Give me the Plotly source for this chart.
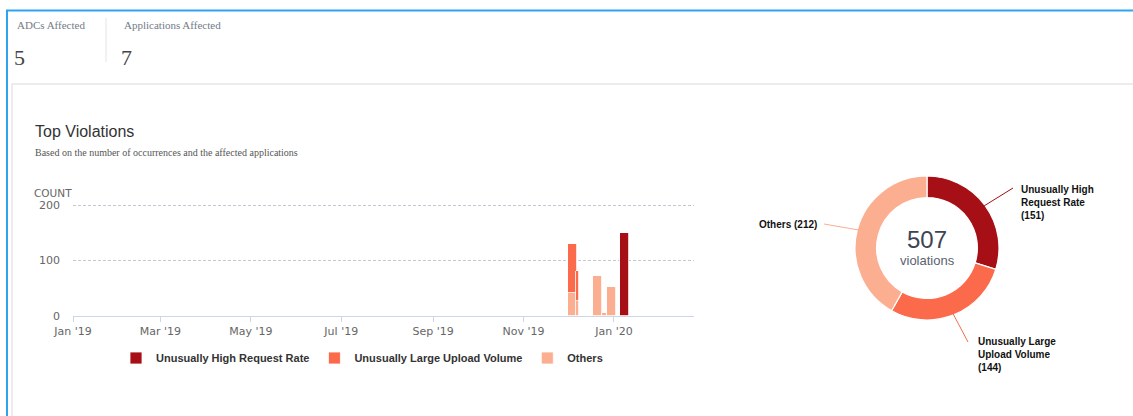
import math
import plotly.graph_objects as go

W, H = 1133, 416

# ---- data -------------------------------------------------------------
adcs_affected = 5
apps_affected = 7

violation_types = ["Unusually High Request Rate", "Unusually Large Upload Volume", "Others"]
violation_totals = [151, 144, 212]
type_colors = ["#a50f15", "#fb6a4a", "#fcae91"]

bar_dates = ["2019-12-04", "2019-12-07 10:00", "2019-12-21", "2019-12-25 14:00",
             "2019-12-30 05:00", "2020-01-08"]
bar_width_days = [6, 2.2, 6, 3, 6, 6]
high_rate = [0, 0, 0, 0, 0, 149]
large_upload = [88, 54, 0, 0, 0, 0]
others = [42, 27, 73, 5, 52, 0]

DAY_MS = 86400000


def px(x):
    return x / W


def py(y):
    return 1 - y / H


fig = go.Figure()

# ---- stacked columns ---------------------------------------------------
widths = [d * DAY_MS for d in bar_width_days]
for name, vals, color in [("Others", others, type_colors[2]),
                          ("Unusually Large Upload Volume", large_upload, type_colors[1]),
                          ("Unusually High Request Rate", high_rate, type_colors[0])]:
    fig.add_trace(go.Bar(
        x=bar_dates, y=vals, width=widths, name=name,
        marker=dict(color=color, line=dict(color="white", width=0.8)),
        hoverinfo="skip",
    ))

# ---- donut -------------------------------------------------------------
cx, cy, R = 927, 248, 72
fig.add_trace(go.Pie(
    labels=violation_types, values=violation_totals,
    marker=dict(colors=type_colors, line=dict(color="white", width=1.2)),
    hole=0.7, sort=False, direction="clockwise", rotation=0,
    textinfo="none", hoverinfo="skip", showlegend=False,
    domain=dict(x=[px(cx - R), px(cx + R)], y=[py(cy + R), py(cy - R)]),
))

# ---- layout ------------------------------------------------------------
tick_font = dict(family="DejaVu Sans", size=11, color="#666666")
fig.update_layout(
    width=W, height=H, autosize=False,
    margin=dict(l=0, r=0, t=0, b=0, pad=0, autoexpand=False),
    paper_bgcolor="white", plot_bgcolor="white",
    barmode="stack", bargap=0,
    xaxis=dict(
        type="date", domain=[px(73), px(694)],
        range=["2019-01-01", "2020-02-24"],
        tick0="2019-01-01", dtick="M2", tickformat="%b '%y",
        showgrid=False, zeroline=False,
        showline=True, linecolor="#ccd6eb", linewidth=1,
        ticks="outside", ticklen=5, tickcolor="#ccd6eb",
        tickfont=tick_font, fixedrange=True, automargin=False,
    ),
    yaxis=dict(
        domain=[py(316), py(204)], range=[0, 202],
        tickvals=[0, 100, 200], showgrid=True,
        gridcolor="#c3c8d3", griddash="3px,2px", gridwidth=1,
        zeroline=False, showline=False,
        tickfont=tick_font, ticklabelstandoff=12, fixedrange=True, automargin=False,
    ),
    legend=dict(
        orientation="h", x=px(362), xanchor="center", y=py(358), yanchor="middle",
        font=dict(family="Liberation Sans", size=11, color="#333333", weight=700),
        traceorder="reversed", itemwidth=30, bgcolor="rgba(0,0,0,0)",
    ),
    showlegend=True,
)

shapes = []
annotations = []

# page frame
shapes.append(dict(type="rect", xref="paper", yref="paper",
                   x0=px(7), x1=1.05, y0=-0.05, y1=py(10.5),
                   line=dict(color="#2ea3f2", width=2), fillcolor="rgba(0,0,0,0)", layer="below"))
shapes.append(dict(type="rect", xref="paper", yref="paper",
                   x0=px(12), x1=1.05, y0=-0.05, y1=py(84),
                   line=dict(color="#ececec", width=2), fillcolor="rgba(0,0,0,0)", layer="below"))
shapes.append(dict(type="line", xref="paper", yref="paper",
                   x0=px(106), x1=px(106), y0=py(18), y1=py(62),
                   line=dict(color="#e4e4e4", width=1)))

# header counters
serif = "Liberation Serif"
for x, label, value in [(15, "ADCs Affected", adcs_affected),
                        (122, "Applications Affected", apps_affected)]:
    annotations.append(dict(x=px(x), y=py(25), xref="paper", yref="paper",
                            text=label, showarrow=False, xanchor="left", yanchor="middle",
                            font=dict(family=serif, size=11, color="#737b87")))
    annotations.append(dict(x=px(x - 3), y=py(58), xref="paper", yref="paper",
                            text=str(value), showarrow=False, xanchor="left", yanchor="middle",
                            font=dict(family=serif, size=22, color="#444444")))

# card title
annotations.append(dict(x=px(33), y=py(131), xref="paper", yref="paper",
                        text="Top Violations", showarrow=False, xanchor="left", yanchor="middle",
                        font=dict(family="Liberation Sans", size=16, color="#333333")))
annotations.append(dict(x=px(33), y=py(152), xref="paper", yref="paper",
                        text="Based on the number of occurrences and the affected applications",
                        showarrow=False, xanchor="left", yanchor="middle",
                        font=dict(family=serif, size=10, color="#555555")))
annotations.append(dict(x=px(32), y=py(193), xref="paper", yref="paper",
                        text="COUNT", showarrow=False, xanchor="left", yanchor="middle",
                        font=dict(family="DejaVu Sans", size=10.5, color="#666666")))

# donut centre
total = sum(violation_totals)
annotations.append(dict(x=px(cx), y=py(240), xref="paper", yref="paper",
                        text=str(total), showarrow=False, xanchor="center", yanchor="middle",
                        font=dict(family="Liberation Sans", size=24, color="#3d4452")))
annotations.append(dict(x=px(cx), y=py(260), xref="paper", yref="paper",
                        text="violations", showarrow=False, xanchor="center", yanchor="middle",
                        font=dict(family="Liberation Sans", size=13, color="#5a6270")))

# donut labels with leader lines from each slice's mid angle
label_text = ["Unusually High<br>Request Rate<br>(%d)",
              "Unusually Large<br>Upload Volume<br>(%d)",
              "Others (%d)"]
# (line end x, line end y, text x, text y, xanchor, yanchor)
label_place = [(1013, 188, 1019, 182, "left", "top"),
               (968, 342, 976, 334, "left", "top"),
               (824, 224, 819, 224, "right", "middle")]
start = 0.0
for i, v in enumerate(violation_totals):
    mid = (start + v / 2) / total * 2 * math.pi
    start += v
    rx = cx + (R - 1) * math.sin(mid)
    ry = cy - (R - 1) * math.cos(mid)
    ex, ey, tx, ty, xa, ya = label_place[i]
    shapes.append(dict(type="line", xref="paper", yref="paper",
                       x0=px(rx), y0=py(ry), x1=px(ex), y1=py(ey),
                       line=dict(color=type_colors[i], width=1)))
    annotations.append(dict(x=px(tx), y=py(ty), xref="paper", yref="paper",
                            text=label_text[i] % v, showarrow=False,
                            xanchor=xa, yanchor=ya, align="left",
                            font=dict(family="Liberation Sans", size=10, color="#111111",
                                      weight=700)))

fig.update_layout(shapes=shapes, annotations=annotations)

fig.write_html("out.html", config={"displayModeBar": False})
